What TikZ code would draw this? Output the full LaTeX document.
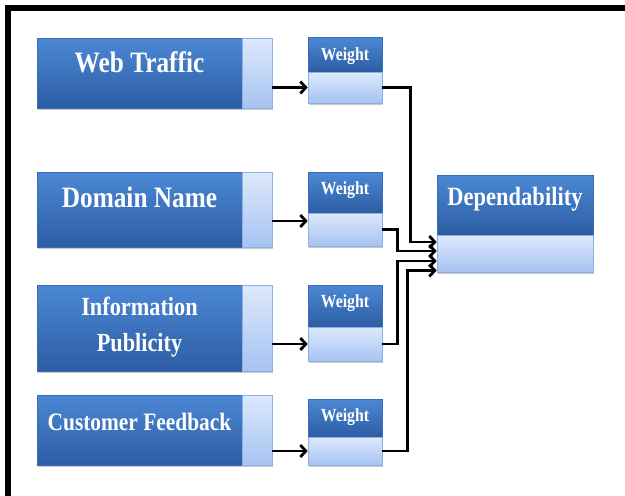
\documentclass[tikz,border=0pt]{standalone}
\usepackage{fontspec}
\usepackage{graphicx}
\setmainfont{Liberation Serif}
\usetikzlibrary{arrows.meta,calc,shadows}
\definecolor{dktop}{HTML}{4C88D5}
\definecolor{dkbot}{HTML}{2C5DA3}
\definecolor{dkedge}{HTML}{3A6DB5}
\definecolor{lttop}{HTML}{DDE9FC}
\definecolor{ltbot}{HTML}{A6C3F2}
\definecolor{ltedge}{HTML}{8DAFE4}
\newcommand\stx[1]{\scalebox{1}[1.17]{#1}}
\begin{document}
\begin{tikzpicture}[x=1pt,y=-1pt,
  shad/.style={drop shadow={shadow xshift=1.2pt,shadow yshift=-1.5pt,opacity=0.35,fill=black!60}},
  darkbox/.style={rectangle,inner sep=0pt,draw=dkedge,line width=0.6pt,top color=dktop,bottom color=dkbot,shad},
  lightbox/.style={rectangle,inner sep=0pt,draw=ltedge,line width=0.6pt,top color=lttop,bottom color=ltbot,shad},
  lbl/.style={anchor=base,inner sep=0pt,text=white,font=\bfseries},
  big/.style={lbl,font=\bfseries\fontsize{25.3}{30}\selectfont},
  mid/.style={lbl,font=\bfseries\fontsize{22.3}{27}\selectfont},
  wfont/.style={lbl,font=\bfseries\fontsize{15.8}{19}\selectfont},
  conn/.style={line width=2.8pt,-{Straight Barb[length=5.5pt,width=12pt]}},
  wire/.style={line width=2.8pt}]
\useasboundingbox (0,0) rectangle (625,496);
\fill[white] (0,0) rectangle (625,496);
% frame (cropped at right and bottom)
\draw[line width=6pt] (8,496) -- (8,8) -- (625,8);

% left boxes
\node[darkbox,minimum width=205,minimum height=70] (wt) at (139.5,73) {};
\node[lightbox,minimum width=30,minimum height=70] (wtl) at (257,73) {};
\node[big] (wtt) at (139.5,72.7) {\stx{Web Traffic}};

\node[darkbox,minimum width=205,minimum height=75] (dn) at (139.5,209.5) {};
\node[lightbox,minimum width=30,minimum height=75] (dnl) at (257,209.5) {};
\node[big] (dnt) at (139.5,207.7) {\stx{Domain Name}};

\node[darkbox,minimum width=205,minimum height=86] (ip) at (139.5,328) {};
\node[lightbox,minimum width=30,minimum height=86] (ipl) at (257,328) {};
\node[mid] (ipt1) at (139.5,315) {\stx{Information}};
\node[mid] (ipt2) at (139.5,351) {\stx{Publicity}};

\node[darkbox,minimum width=205,minimum height=70] (cf) at (139.5,430) {};
\node[lightbox,minimum width=30,minimum height=70] (cfl) at (257,430) {};
\node[lbl,font=\bfseries\fontsize{21.4}{26}\selectfont] (cft) at (139.5,430) {\stx{Customer Feedback}};

% weight boxes
\node[darkbox,minimum width=74,minimum height=35] (w1) at (345,54.5) {};
\node[lightbox,minimum width=74,minimum height=31] (w1b) at (345,87.5) {};
\node[wfont] (w1t) at (345,60) {\stx{Weight}};

\node[darkbox,minimum width=74,minimum height=41] (w2) at (345,192.5) {};
\node[lightbox,minimum width=74,minimum height=33] (w2b) at (345,229.5) {};
\node[wfont] (w2t) at (345,194.5) {\stx{Weight}};

\node[darkbox,minimum width=74,minimum height=42] (w3) at (345,306) {};
\node[lightbox,minimum width=74,minimum height=34] (w3b) at (345,344) {};
\node[wfont] (w3t) at (345,307.5) {\stx{Weight}};

\node[darkbox,minimum width=74,minimum height=38] (w4) at (345,418) {};
\node[lightbox,minimum width=74,minimum height=28] (w4b) at (345,451) {};
\node[wfont] (w4t) at (345,421.5) {\stx{Weight}};

% dependability
\node[darkbox,minimum width=156,minimum height=60] (dep) at (515,205) {};
\node[lightbox,minimum width=156,minimum height=37] (depb) at (515,253.5) {};
\node[lbl,font=\bfseries\fontsize{22.5}{27}\selectfont] (dept) at (515,205) {\stx{Dependability}};

% arrows into weights
\draw[conn] (wtl.east |- w1b.west) -- (w1b.west);
\draw[conn] (dnl.east |- {$(w2b.west)+(0,-8.5)$}) -- ($(w2b.west)+(0,-8.5)$);
\draw[conn] (ipl.east |- w3b.west) -- (w3b.west);
\draw[conn] (cfl.east |- w4b.west) -- (w4b.west);

% weights into dependability
\draw[conn] (w1b.east) -- ++(28,0) |- ($(depb.west)+(0,-11.5)$);
\draw[conn] (w2b.east) -- ++(15,0) |- ($(depb.west)+(0,-2.5)$);
\draw[conn] (w3b.east) -- ++(15,0) |- ($(depb.west)+(0,7.5)$);
\draw[conn] (w4b.east) -- ++(25,0) |- ($(depb.west)+(0,17)$);
\end{tikzpicture}
\end{document}
